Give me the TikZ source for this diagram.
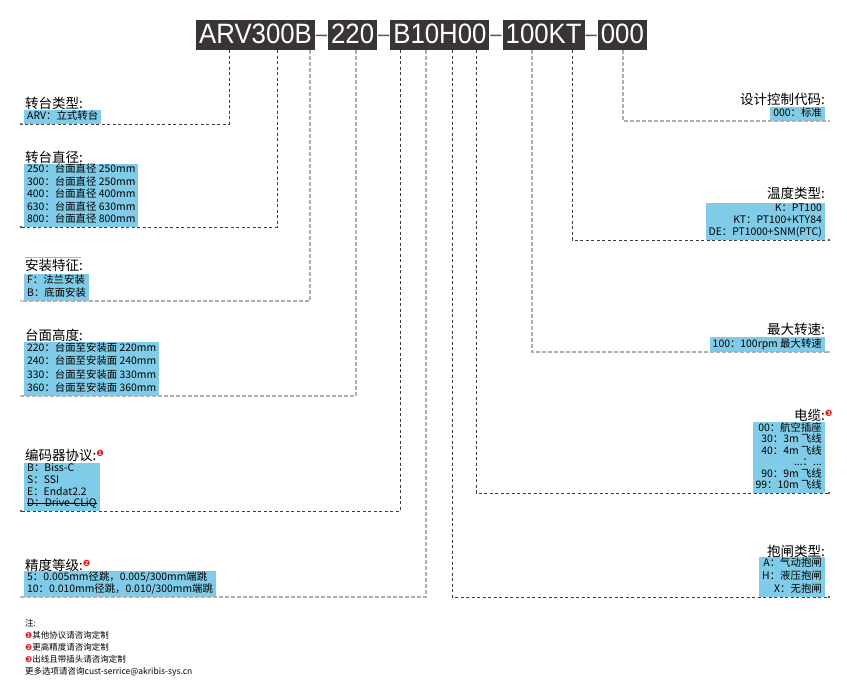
\documentclass[tikz,border=0pt]{standalone}
\usepackage{fontspec}
\setmainfont{Noto Sans CJK SC}
\newfontfamily\codefont[FakeStretch=0.92]{Liberation Sans}
\newfontfamily\markfont{DejaVu Sans}
\usetikzlibrary{positioning,arrows.meta}
\definecolor{codegray}{RGB}{58,53,53}
\definecolor{dashgray}{RGB}{85,85,85}
\definecolor{skyblue}{RGB}{128,204,232}
\definecolor{leaddark}{RGB}{60,60,60}
\definecolor{leadlight}{RGB}{175,175,175}
\definecolor{notered}{RGB}{225,30,30}
\newcommand\redmark[1]{\raisebox{4pt}{\textcolor{notered}{\markfont\fontsize{8.5}{8.5}\selectfont#1}}}
\newcommand\notenum[1]{\textcolor{notered}{\markfont\fontsize{8}{8}\selectfont#1}}
\newlength\strikelen
\newcommand\strikeline[1]{\settowidth\strikelen{#1}\rlap{\rule[0.3em]{\strikelen}{0.5pt}}#1}

\begin{document}
\begin{tikzpicture}[
	x=1pt, y=-1pt,
	codebox/.style = {fill=codegray, text=white, font=\codefont\fontsize{28}{28}\selectfont,
		inner xsep=3pt, inner ysep=1.5pt, text height=21.8pt, text depth=5.2pt},
	codedash/.style = {text=dashgray, font=\codefont\fontsize{22}{22}\selectfont, inner xsep=0.6pt, inner ysep=0pt, yshift=2pt},
	title/.style = {font=\fontsize{13.5}{13.5}\selectfont, inner sep=0pt},
	infobox/.style = {fill=skyblue, font=\fontsize{10.4}{#1}\selectfont, inner xsep=3pt, inner ysep=0.5pt,
		execute at begin node=\strut, execute at end node=\strut},
	infobox/.default=12.4,
	leader/.style = {dash pattern=on 3pt off 2.5pt, line width=0.8pt, draw=leaddark, -{Circle[length=2pt]}},
	leaderlight/.style = {leader, draw=leadlight, line width=1.3pt, dash pattern=on 3.5pt off 2.5pt},
	notes/.style = {font=\fontsize{8.5}{12}\selectfont, align=left, inner sep=0pt, execute at begin node=\strut},
	]
	\fill[white] (0,0) rectangle (847,695);
	\useasboundingbox (0,0) rectangle (847,695);

	% model code
	\node[codebox, anchor=base west] (arv) at (196,43.3) {ARV300B};
	\node[codedash, base right=0pt of arv] (d1) {–};
	\node[codebox, base right=0pt of d1, yshift=-2pt] (c220) {220};
	\node[codedash, base right=0pt of c220] (d2) {–};
	\node[codebox, base right=0pt of d2, yshift=-2pt] (b10h) {B10H00};
	\node[codedash, base right=0pt of b10h] (d3) {–};
	\node[codebox, base right=0pt of d3, yshift=-2pt] (kt) {100KT};
	\node[codedash, base right=0pt of kt] (d4) {–};
	\node[codebox, base right=0pt of d4, yshift=-2pt] (c000) {000};

	% left column
	\node[title, anchor=west] (typt) at (25,103) {转台类型:};
	\node[infobox=12, anchor=south west, align=left] (typ) at (24,124) {ARV：立式转台};

	\node[title, anchor=west] (diat) at (25,157) {转台直径:};
	\node[infobox=12.4, anchor=south west, align=left] (dia) at (24,227) {250：台面直径 250mm\\300：台面直径 250mm\\400：台面直径 400mm\\630：台面直径 630mm\\800：台面直径 800mm};

	\node[title, anchor=west] (mntt) at (25,265) {安装特征:};
	\draw[skyblue] ([yshift=1.5pt]mntt.north west) -- ++(56,0);
	\node[infobox=13, anchor=south west, align=left] (mnt) at (24,301) {F：法兰安装\\B：底面安装};

	\node[title, anchor=west] (hgtt) at (25,335) {台面高度:};
	\node[infobox=13.2, anchor=south west, align=left] (hgt) at (24,396) {220：台面至安装面 220mm\\240：台面至安装面 240mm\\330：台面至安装面 330mm\\360：台面至安装面 360mm};

	\node[title, anchor=west] (enct) at (25,455) {编码器协议:\redmark{❶}};
	\node[infobox=11.75, anchor=south west, align=left] (enc) at (24,511) {B：Biss-C\\S：SSI\\E：Endat2.2\\\strikeline{D：Drive-CLiQ}};

	\node[title, anchor=west] (acct) at (25,565) {精度等级:\redmark{❷}};
	\node[infobox=12, anchor=south west, align=left] (acc) at (24,597) {5：0.005mm径跳，0.005/300mm端跳\\10：0.010mm径跳，0.010/300mm端跳};

	% right column
	\node[title, anchor=east] (dest) at (825,99) {设计控制代码:};
	\node[infobox=12, anchor=south east, align=right] (des) at (825,121) {000：标准};

	\node[title, anchor=east] (tmpt) at (825,193) {温度类型:};
	\node[infobox=12.3, anchor=south east, align=right] (tmp) at (825,240) {K：PT100\\KT：PT100+KTY84\\DE：PT1000+SNM(PTC)};

	\node[title, anchor=east] (spdt) at (825,329) {最大转速:};
	\node[infobox=14, anchor=south east, align=right] (spd) at (825,352) {100：100rpm 最大转速};

	\node[title, anchor=east] (cabt) at (825,415) {电缆:\rlap{\redmark{❸}}};
	\node[infobox=11.5, anchor=south east, align=right] (cab) at (825,493) {00：航空插座\\30：3m 飞线\\40：4m 飞线\\...：...\\90：9m 飞线\\99：10m 飞线};

	\node[title, anchor=east] (brkt) at (825,551) {抱闸类型:};
	\node[infobox=13, anchor=south east, align=right] (brk) at (825,597) {A：气动抱闸\\H：液压抱闸\\X：无抱闸};

	% leader x positions
	\coordinate (typx) at (229,0);
	\coordinate (diax) at (277,0);
	\coordinate (mntx) at (310,0);
	\coordinate (hgtx) at (356,0);
	\coordinate (encx) at (400,0);
	\coordinate (accx) at (426,0);
	\coordinate (brkx) at (452,0);
	\coordinate (cabx) at (476,0);
	\coordinate (spdx) at (532,0);
	\coordinate (tmpx) at (572,0);
	\coordinate (desx) at (623,0);

	\draw[leader] (arv.south -| typx) |- ([xshift=-4pt]typ.south west);
	\draw[leader] (arv.south -| diax) |- ([xshift=-4pt]dia.south west);
	\draw[leaderlight] (arv.south -| mntx) |- ([xshift=-4pt]mnt.south west);
	\draw[leaderlight] (c220.south -| hgtx) |- ([xshift=-4pt]hgt.south west);
	\draw[leader] (b10h.south -| encx) |- ([xshift=-4pt]enc.south west);
	\draw[leaderlight] (b10h.south -| accx) |- ([xshift=-4pt]acc.south west);
	\draw[leader] (b10h.south -| brkx) |- ([xshift=5pt]brk.south east);
	\draw[leader] (b10h.south -| cabx) |- ([xshift=5pt]cab.south east);
	\draw[leaderlight] (kt.south -| spdx) |- ([xshift=5pt]spd.south east);
	\draw[leader] (kt.south -| tmpx) |- ([xshift=5pt]tmp.south east);
	\draw[leaderlight] (c000.south -| desx) |- ([xshift=5pt]des.south east);

	% notes
	\node[notes, anchor=north west] (notes) at (25,619) {注:\\\notenum{❶}其他协议请咨询定制\\\notenum{❷}更高精度请咨询定制\\\notenum{❸}出线且带插头请咨询定制\\更多选项请咨询cust-serrice@akribis-sys.cn};
\end{tikzpicture}
\end{document}
